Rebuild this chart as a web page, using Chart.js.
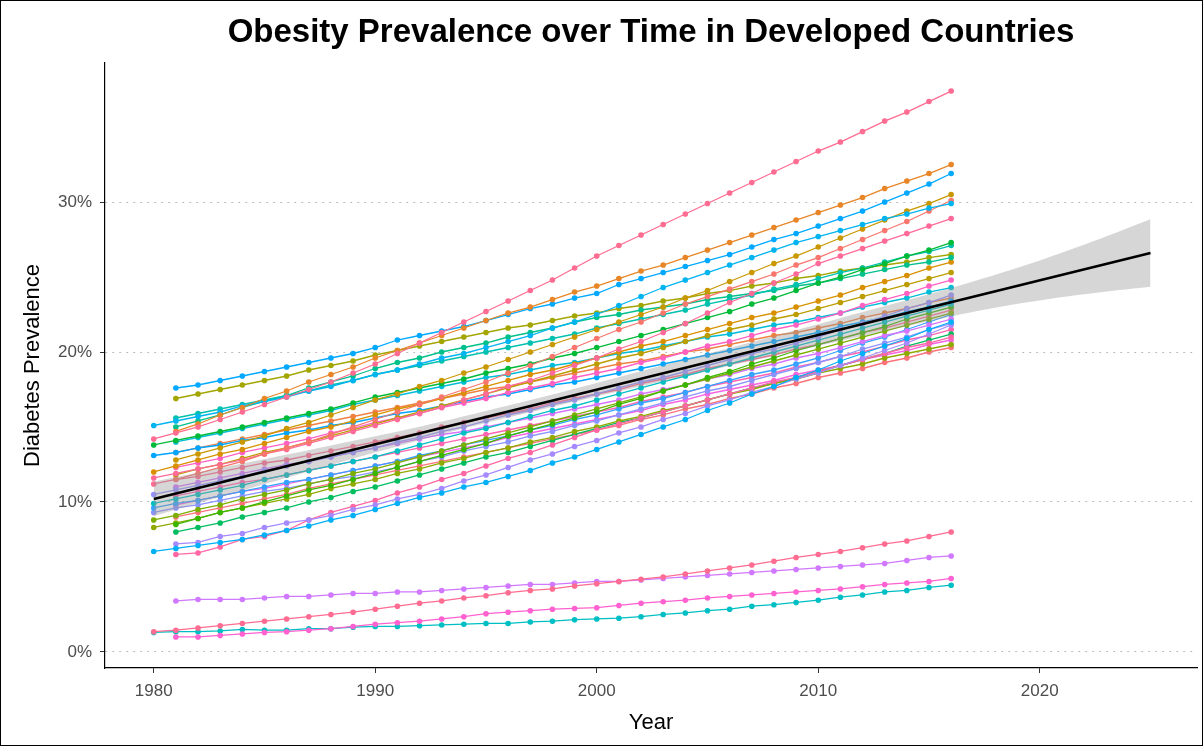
<!DOCTYPE html>
<html>
<head>
<meta charset="utf-8">
<script src="https://cdn.jsdelivr.net/npm/chart.js@4.4.1/dist/chart.umd.min.js"></script>
<style>
  html, body { margin: 0; padding: 0; background: #fff; }
  #wrap { width: 1203px; height: 746px; }
  canvas { display: block; outline: 1px solid #000; outline-offset: -1px; }
</style>
</head>
<body>
<div id="wrap"><canvas id="chart" width="1203" height="746"></canvas></div>
<script>
// Axis tick positions
const yearTicks = [1980, 1990, 2000, 2010, 2020];
const pctTicks = [0, 10, 20, 30];

// Obesity prevalence (%) per country, one value per year from its first year
const s01 = [14.2,14.6,15.0,15.5,16.0,16.5,17.0,17.5,18.0,18.6,19.2,19.9,20.6,21.3,22.0,22.7,23.4,24.1,24.8,25.6,26.4,27.1,27.8,28.5,29.2,29.9,30.6,31.3,32.0,32.7,33.4,34.0,34.7,35.4,36.0,36.7,37.4];
const s02 = [14.7,15.2,15.8,16.3,16.9,17.4,18.0,18.5,19.0,19.6,20.1,20.6,21.1,21.6,22.1,22.6,23.0,23.5,24.0,24.4,24.9,25.4,25.8,26.3,26.8,27.3,27.8,28.3,28.8,29.3,29.8,30.3,30.9,31.4,31.9,32.5];
const s03 = [17.6,17.8,18.1,18.4,18.7,19.0,19.3,19.6,19.9,20.3,20.8,21.1,21.4,21.7,22.1,22.5,22.9,23.2,23.6,23.9,24.5,24.9,25.3,25.7,26.1,26.5,27.0,27.5,27.9,28.4,28.9,29.4,30.0,30.6,31.2,31.9];
const s04 = [15.1,15.4,15.7,16.0,16.4,16.7,17.0,17.4,17.7,18.1,18.5,18.8,19.2,19.6,19.9,20.3,20.7,21.1,21.6,22.0,22.5,23.1,23.7,24.3,24.8,25.3,25.8,26.3,26.8,27.3,27.7,28.1,28.5,28.9,29.2,29.6,29.9];
const s05 = [12.8,13.2,13.6,14.0,14.4,14.9,15.3,15.8,16.3,16.8,17.2,17.7,18.1,18.6,19.0,19.5,20.0,20.5,21.0,21.5,22.0,22.5,23.0,23.6,24.1,24.7,25.3,25.9,26.4,27.0,27.6,28.2,28.8,29.4,29.9,30.5];
const s06 = [11.5,11.9,12.3,12.7,13.2,13.6,14.0,14.5,15.0,15.5,16.0,16.5,17.0,17.5,18.0,18.6,19.1,19.7,20.3,20.9,21.5,22.0,22.6,23.2,23.7,24.2,24.7,25.2,25.8,26.3,26.9,27.5,28.1,28.7,29.4,30.1];
const s07 = [11.6,11.9,12.2,12.5,12.8,13.2,13.5,13.9,14.3,14.7,15.1,15.5,15.9,16.3,16.8,17.2,17.7,18.1,18.6,19.1,19.6,20.2,20.7,21.3,21.9,22.6,23.3,23.9,24.6,25.2,25.9,26.4,26.9,27.4,27.9,28.4,28.9];
const s08 = [13.8,14.1,14.4,14.7,15.0,15.3,15.6,15.9,16.2,16.6,17.0,17.3,17.6,17.9,18.2,18.6,18.9,19.2,19.6,19.9,20.3,20.7,21.1,21.5,21.9,22.3,22.7,23.2,23.6,24.1,24.6,25.0,25.5,25.9,26.4,26.8,27.3];
const s09 = [15.6,15.9,16.2,16.5,16.8,17.1,17.4,17.8,18.1,18.5,18.8,19.1,19.4,19.7,20.0,20.3,20.6,20.9,21.2,21.6,21.9,22.2,22.5,22.8,23.2,23.5,23.8,24.2,24.5,24.9,25.3,25.6,26.0,26.4,26.7,27.1];
const s10 = [15.0,15.4,15.8,16.3,16.7,17.1,17.6,18.0,18.4,18.9,19.3,19.6,20.0,20.3,20.6,21.0,21.3,21.6,22.0,22.3,22.5,22.8,23.0,23.2,23.5,23.7,23.9,24.1,24.4,24.6,24.9,25.2,25.5,25.8,26.0,26.3];
const s11 = [12.0,12.4,12.8,13.2,13.5,13.9,14.3,14.7,15.0,15.4,15.8,16.2,16.5,16.9,17.3,17.7,18.1,18.5,18.8,19.2,19.6,20.0,20.4,20.7,21.1,21.5,21.9,22.3,22.6,23.0,23.4,23.8,24.3,24.7,25.1,25.6,26.0];
const s12 = [11.8,12.2,12.5,12.9,13.3,13.6,14.0,14.4,14.8,15.2,15.6,16.0,16.4,16.8,17.2,17.6,18.0,18.4,18.8,19.2,19.6,19.9,20.3,20.7,21.1,21.5,21.8,22.2,22.5,22.9,23.3,23.7,24.1,24.5,24.9,25.3];
const s13 = [12.3,12.6,12.9,13.3,13.6,13.9,14.2,14.6,14.9,15.3,15.6,15.9,16.3,16.6,16.9,17.3,17.6,17.9,18.3,18.6,18.9,19.3,19.6,20.0,20.4,20.7,21.1,21.5,21.8,22.2,22.6,23.1,23.5,23.9,24.4,24.8];
const s14 = [16.9,17.2,17.5,17.8,18.1,18.4,18.8,19.1,19.4,19.8,20.1,20.4,20.7,21.0,21.3,21.6,21.8,22.1,22.4,22.6,22.9,23.1,23.4,23.6,23.9,24.1,24.4,24.6,24.9,25.1,25.4,25.6,25.8,26.0,26.3,26.5];
const s15 = [10.5,10.8,11.1,11.4,11.7,12.1,12.4,12.7,13.0,13.3,13.6,14.0,14.3,14.7,15.0,15.4,15.8,16.1,16.5,16.8,17.2,17.6,18.0,18.3,18.7,19.1,19.5,19.9,20.2,20.6,21.0,21.5,21.9,22.4,22.9,23.3,23.8];
const s16 = [13.1,13.3,13.6,13.8,14.1,14.3,14.6,14.8,15.1,15.3,15.6,15.9,16.1,16.4,16.7,17.0,17.2,17.5,17.8,18.0,18.3,18.6,18.9,19.2,19.5,19.8,20.1,20.4,20.7,21.0,21.3,21.7,22.0,22.3,22.7,23.0,23.4];
const s17 = [9.9,10.2,10.5,10.8,11.1,11.5,11.8,12.1,12.4,12.7,13.0,13.4,13.8,14.2,14.6,14.9,15.3,15.7,16.1,16.4,16.8,17.2,17.6,18.0,18.4,18.8,19.2,19.6,20.0,20.4,20.8,21.2,21.6,22.0,22.4,22.8,23.2];
const s18 = [8.5,8.9,9.3,9.6,10.0,10.4,10.8,11.1,11.5,11.9,12.3,12.7,13.1,13.5,13.9,14.4,14.8,15.2,15.6,16.0,16.5,16.9,17.4,17.8,18.3,18.7,19.2,19.6,20.1,20.5,20.9,21.3,21.7,22.2,22.6,23.0];
const s19 = [8.8,9.1,9.5,9.8,10.2,10.5,10.8,11.2,11.5,11.9,12.2,12.6,13.0,13.4,13.8,14.2,14.6,15.0,15.4,15.8,16.2,16.6,17.0,17.4,17.8,18.2,18.6,19.0,19.4,19.8,20.2,20.6,21.0,21.4,21.8,22.2,22.6];
const s20 = [6.7,6.9,7.1,7.3,7.5,7.8,8.1,8.4,8.8,9.1,9.5,9.9,10.3,10.6,11.0,11.3,11.7,12.1,12.6,13.0,13.5,14.0,14.5,15.0,15.5,16.1,16.6,17.2,17.7,18.3,18.8,19.4,19.9,20.4,20.9,21.5,22.0];
const s21 = [7.2,7.3,7.7,7.9,8.3,8.6,8.8,9.1,9.5,9.8,10.2,10.5,10.9,11.4,11.8,12.3,12.8,13.2,13.7,14.1,14.6,15.0,15.5,15.9,16.4,16.8,17.3,17.7,18.2,18.6,19.1,19.6,20.1,20.6,21.2,21.8];
const s22 = [6.5,6.6,7.0,7.5,7.7,8.1,8.8,9.3,9.7,10.1,10.6,11.0,11.5,11.9,12.4,12.9,13.3,13.8,14.3,14.8,15.2,15.6,16.0,16.4,16.8,17.2,17.6,18.0,18.3,18.7,19.1,19.5,19.9,20.3,20.6,21.0];
const s23 = [14.0,14.3,14.6,14.9,15.2,15.5,15.8,16.1,16.5,16.8,17.1,17.4,17.7,18.0,18.3,18.5,18.8,19.1,19.3,19.6,19.9,20.1,20.4,20.7,21.0,21.2,21.5,21.8,22.0,22.3,22.6,23.0,23.3,23.6,24.0,24.3];
const s24 = [13.3,13.6,13.9,14.2,14.5,14.8,15.1,15.4,15.7,16.0,16.3,16.6,16.9,17.2,17.5,17.7,18.0,18.3,18.6,18.9,19.2,19.4,19.7,20.0,20.2,20.5,20.8,21.1,21.3,21.6,21.9,22.3,22.6,22.9,23.3,23.6];
const s25 = [11.0,11.3,11.6,11.9,12.2,12.5,12.7,13.0,13.3,13.6,13.9,14.2,14.5,14.7,15.0,15.3,15.6,15.9,16.2,16.5,16.8,17.2,17.5,17.8,18.2,18.5,18.9,19.2,19.6,19.9,20.3,20.7,21.1,21.4,21.8,22.2];
const s26 = [9.6,9.9,10.1,10.4,10.7,11.0,11.3,11.5,11.8,12.1,12.4,12.7,13.1,13.4,13.8,14.1,14.4,14.8,15.1,15.5,15.8,16.2,16.6,16.9,17.3,17.7,18.1,18.5,18.8,19.2,19.6,20.1,20.6,21.0,21.5,22.0,22.5];
const s27 = [9.3,9.6,9.8,10.1,10.4,10.7,10.9,11.2,11.5,11.7,12.0,12.3,12.7,13.0,13.4,13.7,14.0,14.4,14.7,15.1,15.4,15.8,16.2,16.6,17.0,17.4,17.7,18.1,18.5,18.9,19.3,19.7,20.2,20.6,21.0,21.5,21.9];
const s28 = [8.3,8.6,8.9,9.3,9.6,9.9,10.2,10.5,10.9,11.2,11.5,11.9,12.2,12.6,12.9,13.3,13.6,14.0,14.3,14.7,15.0,15.4,15.7,16.1,16.4,16.8,17.2,17.5,17.9,18.2,18.6,18.9,19.2,19.6,19.9,20.2,20.5];
const s29 = [8.0,8.3,8.6,9.0,9.3,9.6,10.0,10.3,10.7,11.0,11.4,11.8,12.2,12.6,13.0,13.3,13.7,14.1,14.5,14.9,15.3,15.6,16.0,16.4,16.8,17.2,17.6,17.9,18.3,18.7,19.1,19.5,19.9,20.4,20.8,21.2];
const s30 = [10.4,10.7,11.0,11.3,11.5,11.8,12.1,12.4,12.7,13.0,13.3,13.6,13.9,14.2,14.5,14.8,15.1,15.4,15.7,16.0,16.3,16.7,17.0,17.3,17.7,18.0,18.3,18.6,19.0,19.3,19.7,20.0,20.4,20.8,21.1,21.5];
const s31 = [9.8,10.1,10.4,10.7,10.9,11.2,11.5,11.8,12.1,12.4,12.7,13.0,13.3,13.6,13.9,14.3,14.6,14.9,15.2,15.5,15.8,16.1,16.5,16.8,17.2,17.5,17.8,18.1,18.5,18.8,19.1,19.5,19.8,20.1,20.5,20.8];
const s32 = [9.0,9.3,9.6,9.9,10.2,10.5,10.9,11.2,11.5,11.8,12.1,12.4,12.7,13.0,13.3,13.6,13.9,14.2,14.5,14.8,15.1,15.5,15.8,16.2,16.5,16.9,17.2,17.6,17.9,18.3,18.6,18.9,19.3,19.6,20.0,20.3];
const s33 = [11.2,11.5,11.7,12.0,12.3,12.6,12.8,13.1,13.4,13.7,14.0,14.3,14.6,15.0,15.3,15.6,15.9,16.2,16.6,16.9,17.2,17.5,17.9,18.2,18.5,18.9,19.2,19.5,19.8,20.2,20.5,20.9,21.3,21.6,22.0,22.4,22.8];
const s34 = [1.35,1.45,1.6,1.75,1.9,2.05,2.2,2.35,2.5,2.65,2.85,3.05,3.25,3.4,3.6,3.75,3.95,4.1,4.2,4.4,4.55,4.7,4.85,5.0,5.2,5.4,5.6,5.8,6.05,6.3,6.5,6.7,6.95,7.2,7.4,7.7,8.0];
const s35 = [3.4,3.5,3.5,3.5,3.6,3.7,3.7,3.8,3.9,3.9,4.0,4.0,4.1,4.2,4.3,4.4,4.5,4.5,4.6,4.7,4.7,4.8,4.9,5.0,5.1,5.2,5.3,5.4,5.5,5.6,5.7,5.8,5.9,6.1,6.3,6.4];
const s36 = [1.0,1.0,1.1,1.2,1.3,1.35,1.45,1.55,1.7,1.85,1.95,2.05,2.2,2.35,2.55,2.65,2.75,2.85,2.9,2.95,3.1,3.25,3.35,3.45,3.6,3.7,3.8,3.9,4.0,4.1,4.2,4.35,4.5,4.6,4.7,4.9];
const s37 = [1.3,1.35,1.35,1.4,1.5,1.45,1.45,1.55,1.55,1.65,1.7,1.7,1.75,1.8,1.85,1.9,1.9,2.0,2.05,2.15,2.2,2.25,2.35,2.5,2.6,2.75,2.85,3.05,3.15,3.3,3.45,3.65,3.8,4.0,4.1,4.3,4.45];

const seriesValues = [s01,s02,s03,s04,s05,s06,s07,s08,s09,s10,s11,s12,s13,s14,s15,s16,s17,s18,s19,s20,
                      s21,s22,s23,s24,s25,s26,s27,s28,s29,s30,s31,s32,s33,s34,s35,s36,s37];

// First year with data for each series above
const startYears = [1980,1981,1981,1980,1981,1981,1980,1980,1981,1981,1980,1981,1981,1981,1980,1980,1980,1981,1980,1980,
                    1981,1981,1981,1981,1981,1980,1980,1980,1981,1981,1981,1981,1980,1980,1981,1981,1980];

// Linear trend across all countries and its confidence ribbon
const fitYears = [1980, 2025];
const fitValues = [10.2, 26.6];
const bandYears = [1980, 1984, 1988, 1992, 1996, 2000, 2004, 2008, 2012, 2016, 2019, 2022, 2025];
const bandUpper = [11.35, 12.56, 13.77, 15.02, 16.43, 17.94, 19.5, 21.05, 22.66, 24.27, 25.61, 27.15, 28.85];
const bandLower = [9.05, 10.76, 12.47, 14.12, 15.63, 17.04, 18.4, 19.75, 21.06, 22.37, 23.21, 23.85, 24.35];

// Discrete hue colours, one per country
const palette = ['#FF6C91','#E88526','#00A9FF','#00B4F0','#C99800','#F8766D','#FF6A98','#00BA38','#00C0AF','#00C08B',
                 '#D89000','#BB9D00','#FF61C3','#A3A500','#9590FF','#00A5FF','#00BFC4','#39B600','#7CAE00','#00B0F6',
                 '#A58AFF','#FF67A4','#00BCD8','#EE8044','#D575FE','#35A2FF','#8B93FF','#8FAA00','#00BD5F','#FF64B0',
                 '#F763E0','#FB727B','#FF6C91','#FF6C91','#D078FF','#FF61D0','#00BFC4'];

const FONT = "'Liberation Sans', Arial, Helvetica, sans-serif";

const countryDatasets = seriesValues.map((vals, k) => ({
  data: vals.map((v, i) => ({ x: startYears[k] + i, y: v })),
  borderColor: palette[k],
  backgroundColor: palette[k],
  pointBackgroundColor: palette[k],
  borderWidth: 1.3,
  pointRadius: 2.8,
  pointHoverRadius: 2.8,
  pointBorderWidth: 0,
  tension: 0,
  fill: false,
  order: 0
}));

const ribbonUpper = {
  data: bandYears.map((yr, i) => ({ x: yr, y: bandUpper[i] })),
  borderWidth: 0,
  borderColor: 'rgba(0,0,0,0)',
  backgroundColor: 'rgba(153,153,153,0.4)',
  pointRadius: 0,
  fill: '+1',
  tension: 0.35,
  order: -1
};
const ribbonLower = {
  data: bandYears.map((yr, i) => ({ x: yr, y: bandLower[i] })),
  borderWidth: 0,
  borderColor: 'rgba(0,0,0,0)',
  pointRadius: 0,
  fill: false,
  tension: 0.35,
  order: -1
};
const trendLine = {
  data: fitYears.map((yr, i) => ({ x: yr, y: fitValues[i] })),
  borderColor: '#000',
  borderWidth: 2.6,
  pointRadius: 0,
  fill: false,
  order: -2
};

new Chart(document.getElementById('chart'), {
  type: 'line',
  data: { datasets: [...countryDatasets, ribbonUpper, ribbonLower, trendLine] },
  options: {
    responsive: false,
    animation: false,
    events: [],
    layout: { padding: { top: 0, right: 6, bottom: 0, left: 0 } },
    plugins: {
      legend: { display: false },
      tooltip: { enabled: false },
      title: {
        display: true,
        fullSize: false,
        text: 'Obesity Prevalence over Time in Developed Countries',
        color: '#000',
        font: { family: FONT, size: 33, weight: 'bold', lineHeight: 1.2 },
        padding: { top: 13, bottom: 10.4 }
      }
    },
    scales: {
      x: {
        type: 'linear',
        min: 1977.8,
        max: 2027.1,
        afterBuildTicks: s => { s.ticks = yearTicks.map(v => ({ value: v })); },
        afterFit: s => { s.height = 78; },
        grid: { drawOnChartArea: false, drawTicks: true, tickLength: 5, color: '#333', tickColor: '#333' },
        border: { display: true, color: '#000', width: 1.2 },
        ticks: { color: '#4D4D4D', font: { family: FONT, size: 17 }, padding: 8, maxRotation: 0, autoSkip: false,
                 callback: v => String(v) },
        title: { display: true, text: 'Year', color: '#000', font: { family: FONT, size: 22, lineHeight: 1.2 },
                 padding: { top: 0, bottom: 10 } }
      },
      y: {
        type: 'linear',
        min: -1.07,
        max: 39.27,
        afterBuildTicks: s => { s.ticks = pctTicks.map(v => ({ value: v })); },
        afterFit: s => { s.width = 105; },
        grid: { drawOnChartArea: true, drawTicks: true, tickLength: 5, color: '#BDBDBD', lineWidth: 1,
                tickColor: '#333', tickBorderDash: [] },
        border: { display: true, color: '#000', width: 1.2, dash: [2, 5] },
        ticks: { color: '#4D4D4D', font: { family: FONT, size: 17 }, padding: 8, callback: v => v + '%' },
        title: { display: true, text: 'Diabetes Prevalence', color: '#000', font: { family: FONT, size: 22, lineHeight: 1.2 },
                 padding: { top: 20, bottom: 0 } }
      }
    }
  }
});
</script>
</body>
</html>
